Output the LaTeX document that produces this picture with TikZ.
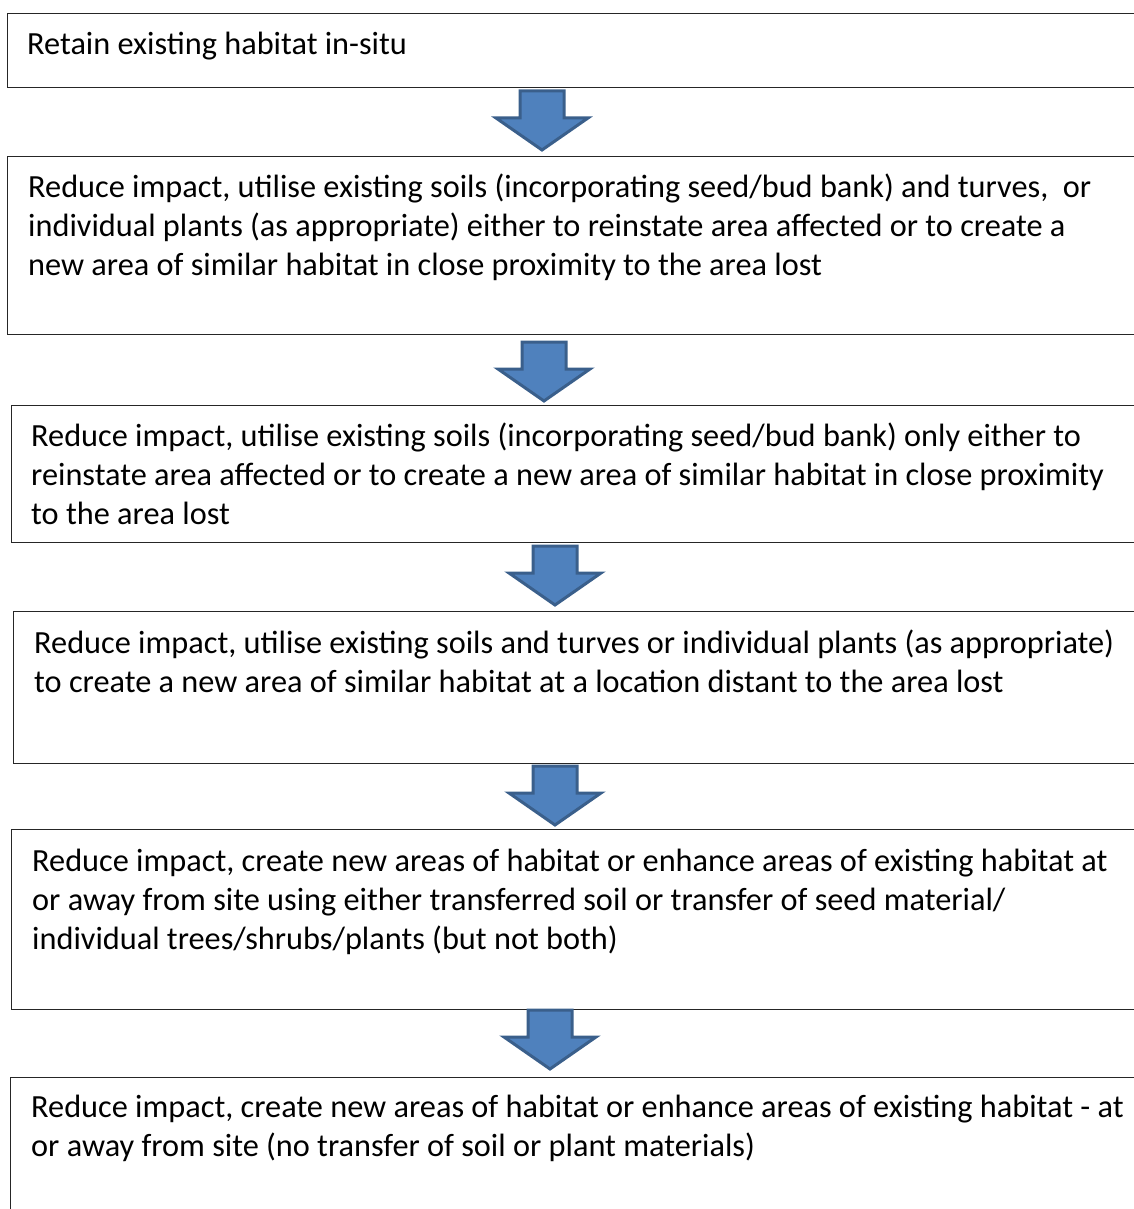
\documentclass[tikz,border=0pt]{standalone}
\usepackage{fontspec}
\setmainfont{Carlito}
\definecolor{arrowfill}{HTML}{4F81BD}
\definecolor{arrowedge}{HTML}{3A5F8B}
\begin{document}
\begin{tikzpicture}[x=1pt,y=-1pt,
  stagebox/.style={draw=black!85, line width=1.3pt, anchor=north west, inner sep=0pt},
  % base anchor of a multi-line node sits on its last line
  stagetext/.style={anchor=base west, inner sep=0pt, align=left,
    font=\fontsize{32.3}{39}\selectfont},
  blockarrow/.style={fill=arrowfill, draw=arrowedge, line width=3pt, line join=miter}]
\useasboundingbox (0,0) rectangle (1134,1209);
\begin{scope}
\clip (0,0) rectangle (1134,1209);
% stage boxes (they run past the right edge)
\node[stagebox, minimum width=1200pt, minimum height=74pt]  (b1) at (7,13)   {};
\node[stagebox, minimum width=1200pt, minimum height=178pt] (b2) at (7,156)  {};
\node[stagebox, minimum width=1200pt, minimum height=137pt] (b3) at (11,405) {};
\node[stagebox, minimum width=1200pt, minimum height=152pt] (b4) at (13,611) {};
\node[stagebox, minimum width=1200pt, minimum height=180pt] (b5) at (11,829) {};
\node[stagebox, minimum width=1200pt, minimum height=200pt] (b6) at (10,1077) {};
\end{scope}

% stage texts
\node[stagetext] (t1) at (27,55) {Retain existing habitat in-situ};
\node[stagetext] (t2) at (28,275) {Reduce impact, utilise existing soils (incorporating seed/bud bank) and turves,~ or\\
individual plants (as appropriate) either to reinstate area affected or to create a\\
new area of similar habitat in close proximity to the area lost};
\node[stagetext] (t3) at (31,524) {Reduce impact, utilise existing soils (incorporating seed/bud bank) only either to\\
reinstate area affected or to create a new area of similar habitat in close proximity\\
to the area lost};
\node[stagetext] (t4) at (34,692) {Reduce impact, utilise existing soils and turves or individual plants (as appropriate)\\
to create a new area of similar habitat at a location distant to the area lost};
\node[stagetext] (t5) at (32,949) {Reduce impact, create new areas of habitat or enhance areas of existing habitat at\\
or away from site using either transferred soil or transfer of seed material/\\
individual trees/shrubs/plants (but not both)};
\node[stagetext] (t6) at (31,1156) {Reduce impact, create new areas of habitat or enhance areas of existing habitat - at\\
or away from site (no transfer of soil or plant materials)};

% block arrows between stages: top-centre points
\coordinate (a1) at (542,91);
\coordinate (a2) at (544,342);
\coordinate (a3) at (555,546);
\coordinate (a4) at (555,766);
\coordinate (a5) at (550,1010);
\foreach \a in {a1,a2,a3,a4,a5}{
  \draw[blockarrow] (\a) ++(-22,0) -- ++(44,0) -- ++(0,27) -- ++(24,0)
    -- ++(-46,32) -- ++(-46,-32) -- ++(24,0) -- cycle;
}
\end{tikzpicture}
\end{document}
